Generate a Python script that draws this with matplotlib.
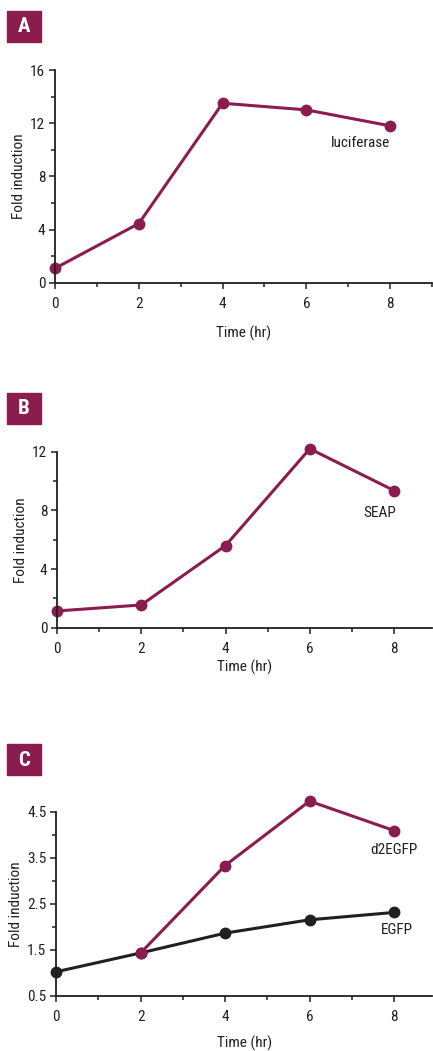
import matplotlib
matplotlib.use("Agg")
import matplotlib.pyplot as plt
from matplotlib.patches import Rectangle
from matplotlib.ticker import MultipleLocator

plt.rcParams['font.family'] = ['Roboto Condensed', 'DejaVu Sans']

maroon = '#8b1c4e'
ink = '#231f20'

hours = [0, 2, 4, 6, 8]
luciferase = [1.08, 4.45, 13.5, 13.0, 11.8]
seap = [1.14, 1.55, 5.6, 12.2, 9.35]
d2egfp_hours = [2, 4, 6, 8]
d2egfp = [1.43, 3.33, 4.73, 4.09]
egfp = [1.02, 1.43, 1.86, 2.15, 2.31]

fig = plt.figure(figsize=(4.33, 10.51), dpi=100)
W, H = 433, 1051
FS = 11


def px_axes(left, top, right, bottom):
    return fig.add_axes([left / W, 1 - bottom / H, (right - left) / W, (bottom - top) / H])


def style(ax, xmax, ylim, ymajor, yminor, ylabels, xlabelpad):
    ax.set_xlim(0, xmax)
    ax.set_ylim(*ylim)
    for s in ('top', 'right'):
        ax.spines[s].set_visible(False)
    for s in ('left', 'bottom'):
        ax.spines[s].set_linewidth(1.3)
        ax.spines[s].set_color(ink)
    ax.set_xticks(hours)
    ax.xaxis.set_minor_locator(MultipleLocator(1))
    ax.set_yticks(ymajor)
    ax.set_yticklabels(ylabels)
    ax.set_yticks(yminor, minor=True)
    ax.tick_params(which='major', length=4, width=1.1, color=ink, labelsize=FS, labelcolor=ink)
    ax.tick_params(which='minor', length=3, width=1.1, color=ink)
    ax.tick_params(axis='x', which='major', pad=6)
    ax.tick_params(axis='y', which='major', pad=3)
    ax.set_ylabel('Fold induction', fontsize=FS, color=ink, labelpad=3)
    ax.set_xlabel('Time (hr)', fontsize=FS, color=ink, labelpad=xlabelpad)
    ax.patch.set_alpha(0)


def badge(letter, top):
    fig.patches.append(Rectangle((7 / W, 1 - (top + 31) / H), 34 / W, 31 / H,
                                 transform=fig.transFigure, color=maroon))
    fig.text(24 / W, 1 - (top + 16) / H, letter, color='white', fontsize=15,
             fontweight='bold', ha='center', va='center')


line_kw = dict(lw=2.2, marker='o', ms=7.5, clip_on=False)

# A: luciferase
axA = px_axes(55, 70, 432, 282.7)
axA.plot(hours, luciferase, color=maroon, **line_kw)
style(axA, 9.0, (0, 16), [0, 4, 8, 12, 16], [2, 6, 10, 14], ['0', '4', '8', '12', '16'], 11)
axA.text(8, 10.5, 'luciferase', ha='right', va='center', fontsize=FS, color=ink)
badge('A', 11)

# B: SEAP
axB = px_axes(57, 451.7, 432, 627.7)
axB.plot(hours, seap, color=maroon, **line_kw)
style(axB, 8.9, (0, 12), [0, 4, 8, 12], [2, 6, 10], ['0', '4', '8', '12'], 3)
axB.text(8.05, 7.8, 'SEAP', ha='right', va='center', fontsize=FS, color=ink)
badge('B', 393)

# C: d2EGFP vs EGFP
axC = px_axes(56.2, 811.7, 432, 995.7)
axC.plot(hours, egfp, color=ink, **line_kw)
axC.plot(d2egfp_hours, d2egfp, color=maroon, **line_kw)
style(axC, 8.9, (0.5, 4.5), [0.5, 1.5, 2.5, 3.5, 4.5], [1, 2, 3, 4],
      ['0.5', '1.5', '2.5', '3.5', '4.5'], 9)
axC.text(8.55, 3.67, 'd2EGFP', ha='right', va='center', fontsize=FS, color=ink)
axC.text(8.45, 1.93, 'EGFP', ha='right', va='center', fontsize=FS, color=ink)
badge('C', 744)

fig.savefig('out.png', dpi=100)
